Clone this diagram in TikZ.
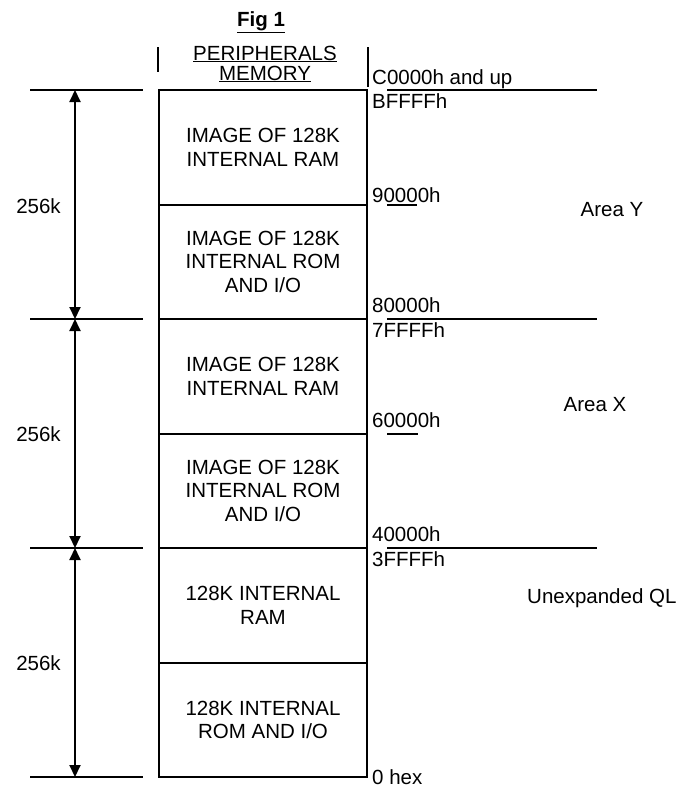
\documentclass[tikz,border=0pt]{standalone}
\usepackage{fontspec}
\setmainfont{Liberation Sans}
\usetikzlibrary{arrows.meta, positioning}

\begin{document}
\begin{tikzpicture}[
    x=1pt, y=-1pt,
    >={Triangle[length=12pt, width=11pt]},
    region/.style={
      draw, line width=2pt, minimum width=208pt, minimum height=114.5pt,
      inner sep=0pt, align=center, font=\fontsize{20.5}{23.5}\selectfont
    },
    rule/.style={line width=2pt},
    span/.style={<->, line width=2pt},
    addr/.style={anchor=west, inner sep=0pt, font=\fontsize{20.5}{23.5}\selectfont},
    lbl/.style={inner sep=0pt, font=\fontsize{20.5}{23.5}\selectfont}
  ]
  \useasboundingbox (0,0) rectangle (678,790);

  % Title and header
  \node[lbl, font=\bfseries\fontsize{20.5}{23.5}\selectfont] (fig) at (261,22) {\underline{Fig 1}};
  \node[lbl, align=center, font=\fontsize{20.5}{20}\selectfont] (head) at (265,64)
    {\underline{PERIPHERALS}\\\underline{MEMORY}};
  \draw[rule] (158,47) -- (158,72);
  \draw[rule] (368,47) -- (368,87);

  % Memory blocks
  \node[region] (ramy) at (263,147.25) {IMAGE OF 128K\\INTERNAL RAM};
  \node[region] (romy) at (263,261.75) {IMAGE OF 128K\\INTERNAL ROM\\AND I/O};
  \node[region] (ramx) at (263,376.25) {IMAGE OF 128K\\INTERNAL RAM};
  \node[region] (romx) at (263,490.75) {IMAGE OF 128K\\INTERNAL ROM\\AND I/O};
  \node[region] (ram)  at (263,605.25) {128K INTERNAL\\RAM};
  \node[region] (rom)  at (263,719.75) {128K INTERNAL\\ROM AND I/O};

  % Rules left and right
  \foreach \y in {90,319,548,777}
    \draw[rule] (30,\y) -- (143,\y);
  \foreach \y in {90,319,548}
    \draw[rule] (387,\y) -- (597,\y);
  \draw[rule] (387,204.5) -- (417,204.5);
  \draw[rule] (387,433.5) -- (418,433.5);

  % Size arrows
  \coordinate (t0) at (75,90);
  \coordinate (t1) at (75,319);
  \coordinate (t2) at (75,548);
  \coordinate (t3) at (75,777);
  \draw[span] (t0) -- (t1);
  \draw[span] (t1) -- (t2);
  \draw[span] (t2) -- (t3);
  \node[lbl] (sy) at (38.5,206) {256k};
  \node[lbl] (sx) at (38.5,434) {256k};
  \node[lbl] (s0) at (38.5,663) {256k};

  % Addresses
  \node[addr] (a0) at (372,79)  {C0000h and up};
  \node[addr] (a1) at (372,101) {BFFFFh};
  \node[addr] (a2) at (372,195) {90000h};
  \node[addr] (a3) at (372,305) {80000h};
  \node[addr] (a4) at (372,330) {7FFFFh};
  \node[addr] (a5) at (372,420) {60000h};
  \node[addr] (a6) at (372,534) {40000h};
  \node[addr] (a7) at (372,559) {3FFFFh};
  \node[addr] (a8) at (372,777) {0 hex};

  % Areas
  \node[lbl] (areay) at (612,210) {Area Y};
  \node[lbl] (areax) at (595,405) {Area X};
  \node[lbl, anchor=west] (ql) at (527,598) {Unexpanded QL};

\end{tikzpicture}
\end{document}
